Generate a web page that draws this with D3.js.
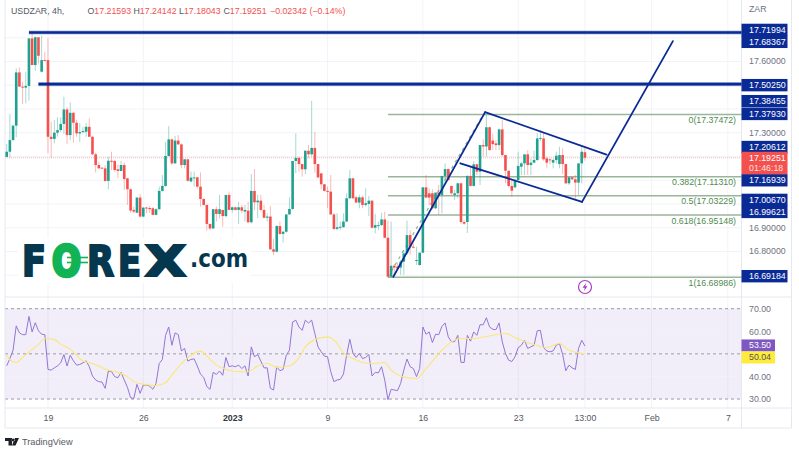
<!DOCTYPE html>
<html>
<head>
<meta charset="utf-8">
<script src="https://cdn.jsdelivr.net/npm/d3@7"></script>
<style>
body { margin: 0; background: #fff; }
text { font-family: "Liberation Sans", sans-serif; font-size: 8.8px; }
</style>
</head>
<body>
<svg width="799" height="454"></svg>
<script>
// 4h bars
var opens = [
17.196,17.218,17.267,17.328,17.552,17.492,17.488,17.495,17.695,17.583,
17.700,17.555,17.604,17.604,17.281,17.272,17.298,17.309,17.335,17.396,
17.288,17.382,17.340,17.295,17.301,17.302,17.323,17.281,17.207,17.162,
17.151,17.148,17.095,17.180,17.179,17.144,17.137,17.162,17.106,17.060,
16.973,16.961,17.025,16.945,16.983,16.981,16.980,16.952,16.976,17.053,
17.074,17.200,17.270,17.169,17.265,17.249,17.162,17.186,17.093,17.106,
17.110,17.071,17.019,16.994,16.914,16.895,16.976,16.956,16.973,16.947,
17.036,16.973,16.984,16.973,16.984,16.966,16.970,16.921,17.053,17.005,
17.012,16.973,16.940,16.945,16.807,16.797,16.905,16.872,16.881,16.954,
16.977,17.179,17.192,17.166,17.144,17.222,17.207,17.234,17.166,17.127,
17.081,17.053,17.050,16.954,16.893,16.900,16.900,16.924,17.022,17.106,
17.026,17.004,17.026,16.994,16.998,17.012,16.898,16.905,16.909,16.933,
16.856,16.692,16.738,16.734,16.730,16.755,16.790,16.867,16.818,16.758,
16.741,16.793,17.068,17.043,17.043,16.980,17.046,17.036,17.116,17.145,
17.074,17.036,17.043,17.085,16.922,16.922,17.116,17.074,17.165,17.134,
17.246,17.240,17.321,17.265,17.253,17.246,17.312,17.204,17.138,17.074,
17.068,17.099,17.155,17.169,17.207,17.162,17.172,17.183,17.274,17.274,
17.190,17.186,17.172,17.183,17.166,17.204,17.166,17.085,17.110,17.102,
17.088,17.169,17.21593];
var highs = [
17.251,17.377,17.328,17.569,17.573,17.513,17.555,17.695,17.719,17.703,
17.700,17.707,17.639,17.695,17.345,17.352,17.363,17.363,17.450,17.405,
17.426,17.387,17.352,17.338,17.323,17.338,17.359,17.284,17.214,17.176,
17.151,17.162,17.197,17.218,17.183,17.165,17.179,17.173,17.106,17.064,
16.987,17.025,17.040,16.983,16.987,16.990,16.985,16.980,17.071,17.120,
17.260,17.326,17.274,17.285,17.288,17.253,17.186,17.186,17.134,17.134,
17.113,17.131,17.022,16.994,16.914,16.976,16.987,17.036,16.973,17.036,
17.050,16.987,16.987,17.008,16.994,16.994,17.008,17.124,17.145,17.036,
17.036,16.994,16.959,16.990,16.851,16.909,16.924,16.886,16.954,17.026,
17.179,17.295,17.197,17.166,17.225,17.246,17.432,17.302,17.166,17.127,
17.082,17.071,17.120,16.959,16.959,16.924,16.959,17.043,17.141,17.106,
17.032,17.036,17.032,17.064,17.032,17.012,16.956,16.924,16.961,16.966,
16.928,16.924,16.745,16.751,16.762,16.804,16.928,16.888,16.832,16.818,
16.793,17.068,17.120,17.064,17.060,17.046,17.078,17.116,17.169,17.148,
17.074,17.057,17.088,17.088,16.930,17.120,17.155,17.179,17.169,17.246,
17.270,17.373,17.324,17.293,17.267,17.316,17.352,17.204,17.138,17.106,
17.106,17.218,17.176,17.207,17.225,17.190,17.222,17.296,17.309,17.296,
17.197,17.190,17.190,17.218,17.239,17.232,17.166,17.113,17.113,17.120,
17.169,17.246,17.24142];
var lows = [
17.196,17.194,17.265,17.279,17.492,17.419,17.422,17.433,17.583,17.559,
17.590,17.551,17.603,17.211,17.193,17.253,17.281,17.302,17.293,17.251,
17.267,17.256,17.281,17.260,17.295,17.281,17.281,17.204,17.131,17.148,
17.145,17.092,17.060,17.141,17.134,17.106,17.137,17.057,16.994,16.961,
16.959,16.959,16.942,16.942,16.959,16.960,16.950,16.950,16.973,17.050,
17.071,17.197,17.162,17.166,17.246,17.148,17.148,17.092,17.088,17.071,
17.064,16.987,16.990,16.886,16.888,16.893,16.924,16.938,16.902,16.942,
16.973,16.961,16.970,16.914,16.959,16.924,16.916,16.916,16.973,16.938,
16.966,16.938,16.924,16.804,16.783,16.794,16.867,16.835,16.877,16.952,
16.973,17.127,17.134,17.113,17.124,17.190,17.197,17.130,17.106,17.060,
17.050,16.980,16.952,16.888,16.886,16.888,16.900,16.921,17.018,17.018,
17.001,16.980,16.980,16.987,16.947,16.895,16.874,16.888,16.905,16.853,
16.689,16.689,16.692,16.720,16.699,16.699,16.783,16.783,16.811,16.741,
16.738,16.790,17.022,16.994,16.976,16.976,16.952,16.959,17.085,17.096,
17.036,17.015,17.022,16.915,16.910,16.876,17.071,17.071,17.120,17.078,
17.197,17.197,17.222,17.225,17.225,17.225,17.197,17.085,17.068,17.029,
17.064,17.092,17.120,17.120,17.120,17.120,17.169,17.180,17.262,17.180,
17.148,17.165,17.148,17.169,17.148,17.124,17.082,17.078,17.099,17.015,
17.036,17.085,17.18043];
var closes = [
17.218,17.267,17.328,17.552,17.492,17.488,17.495,17.695,17.583,17.700,
17.622,17.604,17.603,17.281,17.272,17.298,17.309,17.335,17.396,17.288,
17.382,17.340,17.295,17.301,17.305,17.323,17.281,17.207,17.162,17.148,
17.147,17.095,17.180,17.179,17.141,17.137,17.162,17.103,17.060,16.970,
16.966,17.025,16.945,16.983,16.980,16.976,16.952,16.976,17.053,17.074,
17.200,17.270,17.169,17.265,17.249,17.162,17.186,17.096,17.109,17.110,
17.071,17.019,16.994,16.914,16.895,16.976,16.956,16.976,16.947,17.036,
16.973,16.984,16.973,16.984,16.970,16.973,16.921,17.053,17.005,17.012,
16.973,16.940,16.945,16.807,16.797,16.905,16.872,16.881,16.954,16.977,
17.179,17.192,17.166,17.144,17.222,17.207,17.234,17.166,17.110,17.081,
17.053,17.050,16.954,16.893,16.900,16.902,16.924,17.022,17.106,17.022,
17.004,17.026,16.994,17.001,17.012,16.898,16.909,16.909,16.933,16.856,
16.692,16.738,16.730,16.727,16.755,16.790,16.867,16.818,16.814,16.762,
16.793,17.068,17.025,17.025,16.980,17.046,17.036,17.116,17.145,17.099,
17.043,17.043,17.085,16.922,16.915,17.116,17.074,17.165,17.134,17.246,
17.240,17.321,17.225,17.250,17.246,17.312,17.204,17.138,17.074,17.054,
17.099,17.158,17.169,17.207,17.162,17.172,17.183,17.274,17.276,17.186,
17.172,17.183,17.183,17.201,17.204,17.166,17.085,17.110,17.102,17.088,
17.169,17.218,17.19251];

var rsi = [
44.7,47.9,51.6,62.4,59.3,58.5,58.5,66.6,59.7,63.8,60.2,58.7,58.5,43.1,42.8,43.8,44.7,46.0,49.7,44.6,
49.4,46.9,45.0,45.3,46.0,46.9,44.3,40.2,38.4,37.7,37.5,34.7,42.4,42.1,39.9,39.4,41.8,38.4,35.2,30.6,
30.2,36.5,32.5,36.2,36.2,35.7,34.3,36.9,45.7,47.5,58.2,61.9,53.8,59.3,58.5,51.3,52.4,46.8,47.5,47.8,
44.6,41.0,39.6,35.5,34.3,41.8,40.9,42.4,40.5,48.4,44.3,44.7,44.3,45.0,43.5,44.7,40.2,53.1,48.7,49.7,
46.8,43.8,43.8,34.7,34.0,44.3,42.5,43.1,49.4,51.6,64.1,64.9,61.9,60.4,64.9,63.7,64.9,59.0,53.1,50.9,
49.0,48.7,42.1,37.7,38.4,38.7,41.0,49.4,56.5,50.2,48.4,50.2,47.9,48.4,49.7,40.2,41.8,41.6,44.3,38.4,
29.7,34.3,34.0,33.7,36.9,42.8,47.7,44.3,43.5,39.9,43.5,61.9,58.7,59.7,55.0,58.7,58.5,62.2,63.7,57.5,
55.4,55.4,58.2,46.2,46.2,58.2,55.6,59.7,58.2,62.9,62.9,66.0,61.9,60.9,60.7,63.7,55.3,50.2,47.2,46.6,
48.7,52.7,53.8,56.0,52.4,53.1,53.8,60.2,60.4,52.7,51.3,50.9,51.3,53.8,54.6,49.7,42.5,45.0,43.8,43.1,
52.4,56.0,53.5];

// yellow RSI average, read at these bars
var maBars = [0,1,3,5,7,10,12,15,17,20,22,24,27,29,32,35,38,40,43,47,50,52,55,58,61,63,66,69,73,76,79,82,85,89,92,
  94,97,101,104,106,109,112,115,119,121,124,129,132,137,140,143,147,151,157,160,166,170,174,177,182];
var maValues = [49.4,47.5,46.2,48.4,50.9,54.1,56.8,56.3,54.3,52.1,49.4,46.8,45.7,44.6,42.8,41.8,39.9,37.7,36.6,36.0,37.2,40.6,45.7,49.4,51.2,49.0,45.0,43.1,42.1,42.1,44.6,45.7,44.0,44.7,48.2,
  53.1,56.3,57.5,54.6,50.4,47.9,46.2,45.7,46.2,42.8,40.2,39.1,43.5,51.6,55.3,56.8,56.8,57.7,59.0,57.2,54.1,52.8,54.6,51.6,50.04];

var tickBars = [13, 43, 71, 101, 131, 161, 182, 203, 227];
var tickLabels = ["19", "26", "2023", "9", "16", "23", "13:00", "Feb", "7"];
var priceGridTicks = [16.7, 16.8, 16.9, 17.0, 17.1, 17.2, 17.3, 17.4, 17.5, 17.6, 17.7];
var priceTickValues = [17.6, 17.3, 16.9, 16.8];
var rsiGridValues = [70, 60, 50, 40, 30];
var rsiTickValues = [70, 60, 40, 30]; // 50 sits behind the value boxes
var rsiDashed = [70, 50, 30];

// horizontal levels and drawn lines: bar and price at each end
var levels = [{ bar: 7, price: 17.71994 }, { bar: 10, price: 17.5025 }];
var trendLines = [
  [121.7, 16.69184, 150.6, 17.38455],
  [150.6, 17.38455, 188.8, 17.20612],
  [142.8, 17.16939, 181.1, 17.0067],
  [181.1, 17.0067, 209.7, 17.68367]
];
var fibRatios = ["0", "0.382", "0.5", "0.618", "1"];
var fibPrices = [17.37472, 17.1131, 17.03229, 16.95148, 16.68986];
var fibStartBar = 120;

// blue labels on the price axis (value, then nudge off the scale position)
var blueLabels = [17.71994, 17.68367, 17.5025, 17.38455, 17.3793, 17.20612, 17.16939, 17.0067, 16.99621, 16.69184];
var blueNudge = [-2.6, 0.7, 1, -11, 0.5, -7.5, 17, -2, 7.5, -0.5];
var lastPrice = 17.19251;
var countdown = "01:46:18";
var rsiLast = 53.5;
var maLast = 50.04;

var plotLeft = 5, plotRight = 741.5, axisRight = 791.5;
var paneBottom = 297, rsiBottom = 408, timeBottom = 428;
var blue = "#0a2a96", up = "#1fa18f", down = "#f4504e", gridColor = "#f2f3f8", borderColor = "#e6e8ef", axisText = "#70737f";

var svg = d3.select("svg");

var x = d3.scaleLinear().domain([0, 231.3]).range([6.7, plotRight]);
var y = d3.scaleLinear().domain([16.8, 17.6]).range([251, 61]);
var yRsi = d3.scaleLinear().domain([30, 70]).range([399, 308.7]);

// grid first so everything sits on top
var yGrid = d3.axisRight(y).tickValues(priceGridTicks).tickSize(plotRight - plotLeft).tickFormat("");
svg.append("g").attr("transform", "translate(" + plotLeft + ",0)").call(yGrid)
  .call(g => g.select(".domain").remove())
  .selectAll("line").attr("stroke", gridColor);

svg.append("g").selectAll("line").data(tickBars.slice()).join("line")
  .attr("x1", d => x(d)).attr("x2", d => x(d))
  .attr("y1", 0).attr("y2", rsiBottom)
  .attr("stroke", gridColor);

// rsi band
svg.append("rect")
  .attr("x", plotLeft).attr("width", plotRight - plotLeft)
  .attr("y", yRsi(70)).attr("height", yRsi(30) - yRsi(70))
  .attr("fill", "#7e57c2").attr("opacity", 0.1);
svg.append("g").selectAll("line").data(rsiGridValues).join("line")
  .attr("x1", plotLeft).attr("x2", plotRight)
  .attr("y1", d => yRsi(d)).attr("y2", d => yRsi(d))
  .attr("stroke", gridColor).attr("opacity", 0.6);
svg.append("g").selectAll("line").data(rsiDashed).join("line")
  .attr("x1", plotLeft).attr("x2", plotRight)
  .attr("y1", d => yRsi(d)).attr("y2", d => yRsi(d))
  .attr("stroke", "#9a9ca8").attr("stroke-dasharray", "3 3");

// borders
var borders = [
  [plotLeft, 0, plotLeft, timeBottom], [plotRight, 0, plotRight, timeBottom], [axisRight, 0, axisRight, timeBottom],
  [plotLeft, paneBottom, axisRight, paneBottom], [plotLeft, rsiBottom, axisRight, rsiBottom], [plotLeft, timeBottom, axisRight, timeBottom]
];
svg.append("g").selectAll("line").data(borders).join("line")
  .attr("x1", d => d[0]).attr("y1", d => d[1]).attr("x2", d => d[2]).attr("y2", d => d[3])
  .attr("stroke", borderColor);

// forex logo sits on a white patch
var logo = svg.append("g");
logo.append("rect").attr("x", 18).attr("y", 238).attr("width", 233).attr("height", 45).attr("fill", "#fff");
var logoLetters = [
  { t: "F", x: 22, w: 24, c: "#05384f", s: 2.2 },
  { t: "O", x: 52, w: 29, c: "#12b355", s: 3.4 },
  { t: "R", x: 87, w: 27, c: "#05384f", s: 2.2 },
  { t: "E", x: 118, w: 23, c: "#05384f", s: 2.2 },
  { t: "X", x: 145, w: 41, c: "#05384f", s: 2.2 }
];
logo.selectAll("text.letter").data(logoLetters).join("text").attr("class", "letter")
  .attr("x", d => d.x).attr("y", 275.5)
  .attr("textLength", d => d.w).attr("lengthAdjust", "spacingAndGlyphs")
  .attr("fill", d => d.c).attr("stroke", d => d.c).attr("stroke-width", d => d.s)
  .style("font-family", "'DejaVu Sans'").style("font-weight", "bold").style("font-size", "42px")
  .text(d => d.t);
logo.selectAll("line.slash").data([257.5, 262.5]).join("line").attr("class", "slash")
  .attr("x1", 67).attr("x2", 88).attr("y1", d => d).attr("y2", d => d)
  .attr("stroke", "#12b355").attr("stroke-width", 1.6);
logo.append("text").attr("x", 190).attr("y", 267)
  .attr("textLength", 58).attr("lengthAdjust", "spacingAndGlyphs")
  .attr("fill", "#05384f")
  .style("font-family", "'DejaVu Sans'").style("font-weight", "bold").style("font-size", "25px")
  .text(".com");

// last price dotted line
svg.append("line")
  .attr("x1", plotLeft).attr("x2", plotRight)
  .attr("y1", y(lastPrice)).attr("y2", y(lastPrice))
  .attr("stroke", "#f6b7b5").attr("stroke-dasharray", "1 1");

// fib levels
svg.append("g").selectAll("line").data(fibPrices).join("line")
  .attr("x1", x(fibStartBar)).attr("x2", plotRight)
  .attr("y1", d => y(d)).attr("y2", d => y(d))
  .attr("stroke", "#9ab59a").attr("stroke-width", 1.5);
svg.append("line")
  .attr("x1", x(fibStartBar)).attr("y1", y(fibPrices[4]))
  .attr("x2", x(150)).attr("y2", y(fibPrices[0]))
  .attr("stroke", "#8fae8f").attr("stroke-width", 1.2).attr("stroke-dasharray", "3 4");
svg.append("g").selectAll("text").data(fibPrices).join("text")
  .attr("x", 736).attr("y", d => y(d) + 8.5)
  .attr("text-anchor", "end").attr("fill", "#4f8a52")
  .text((d, i) => fibRatios[i] + "(" + d3.format(".5f")(d) + ")");

// candles
var bars = closes.map((c, i) => ({ i: i, o: opens[i], h: highs[i], l: lows[i], c: c }));
var candle = svg.append("g").selectAll("g").data(bars).join("g");
candle.append("line")
  .attr("x1", d => x(d.i)).attr("x2", d => x(d.i))
  .attr("y1", d => y(d.h)).attr("y2", d => y(d.l))
  .attr("stroke", d => d.c >= d.o ? up : down)
  .attr("stroke-opacity", 0.4);
candle.append("rect")
  .attr("x", d => x(d.i) - 1.3).attr("width", 2.6)
  .attr("y", d => y(Math.max(d.o, d.c)))
  .attr("height", d => Math.max(1, Math.abs(y(d.o) - y(d.c))))
  .attr("fill", d => d.c >= d.o ? up : down);

// blue levels and drawn pattern, levels carry a pale halo
svg.append("g").selectAll("line").data(levels).join("line")
  .attr("x1", d => x(d.bar)).attr("x2", plotRight)
  .attr("y1", d => y(d.price)).attr("y2", d => y(d.price))
  .attr("stroke", blue).attr("stroke-width", 4.2).attr("stroke-opacity", 0.3);
svg.append("g").selectAll("line").data(levels).join("line")
  .attr("x1", d => x(d.bar)).attr("x2", plotRight)
  .attr("y1", d => y(d.price)).attr("y2", d => y(d.price))
  .attr("stroke", blue).attr("stroke-width", 2.6);
svg.append("g").selectAll("line").data(trendLines).join("line")
  .attr("x1", d => x(d[0])).attr("y1", d => y(d[1]))
  .attr("x2", d => x(d[2])).attr("y2", d => y(d[3]))
  .attr("stroke", blue).attr("stroke-width", 1.8).attr("stroke-linecap", "round");

// lightning mark
var bolt = svg.append("g").attr("transform", "translate(585,287)");
bolt.append("circle").attr("r", 6.5).attr("fill", "#fff").attr("stroke", "#a83fc4").attr("stroke-width", 1.2);
bolt.append("path").attr("d", "M1,-4 L-2.5,0.8 L-0.3,0.8 L-1,4 L2.5,-0.8 L0.3,-0.8 Z").attr("fill", "#a83fc4");

// rsi lines
var rsiLine = d3.line().x((d, i) => x(i)).y(d => yRsi(d));
svg.append("path").attr("d", rsiLine(rsi)).attr("fill", "none").attr("stroke", "#9376d4").attr("stroke-width", 1);
var maLine = d3.line().x((d, i) => x(maBars[i])).y(d => yRsi(d)).curve(d3.curveMonotoneX);
svg.append("path").attr("d", maLine(maValues)).attr("fill", "none").attr("stroke", "#fbe678").attr("stroke-width", 1.1);

// axes
var xAxis = d3.axisBottom(x).tickValues(tickBars).tickSize(0).tickFormat((d, i) => tickLabels[i]);
svg.append("g").attr("transform", "translate(0," + (rsiBottom + 4) + ")").call(xAxis)
  .call(g => g.select(".domain").remove())
  .selectAll("text")
  .attr("fill", d => d === 71 ? "#33363f" : "#555863")
  .style("font-weight", d => d === 71 ? "bold" : "normal")
  .style("font-size", "8.8px").style("font-family", "'Liberation Sans'");

var yAxis = d3.axisRight(y).tickValues(priceTickValues).tickSize(0).tickFormat(d3.format(".5f"));
svg.append("g").attr("transform", "translate(" + (plotRight + 7.5) + ",0)").call(yAxis)
  .call(g => g.select(".domain").remove())
  .selectAll("text").attr("x", 0).attr("fill", axisText)
  .style("font-size", "8.8px").style("font-family", "'Liberation Sans'");

var rsiAxis = d3.axisRight(yRsi).tickValues(rsiTickValues).tickSize(0).tickFormat(d3.format(".2f"));
svg.append("g").attr("transform", "translate(" + (plotRight + 7.5) + ",0)").call(rsiAxis)
  .call(g => g.select(".domain").remove())
  .selectAll("text").attr("x", 0).attr("fill", axisText)
  .style("font-size", "8.8px").style("font-family", "'Liberation Sans'");

// blue price labels
var blueG = svg.append("g").selectAll("g").data(blueLabels).join("g")
  .attr("transform", (d, i) => "translate(" + plotRight + "," + (y(d) + blueNudge[i]) + ")");
blueG.append("rect").attr("y", -6.2).attr("width", 46).attr("height", 12.4).attr("fill", blue);
blueG.append("text").attr("x", 7.5).attr("y", 3).attr("fill", "#fff").text(d => d3.format(".5f")(d));

// last price box with countdown
var lastG = svg.append("g").attr("transform", "translate(" + plotRight + "," + y(lastPrice) + ")");
lastG.append("rect").attr("y", -6).attr("width", 46).attr("height", 22.5).attr("fill", down);
lastG.append("text").attr("x", 7.5).attr("y", 3).attr("fill", "#fff").text(d3.format(".5f")(lastPrice));
lastG.append("text").attr("x", 7.5).attr("y", 13.5).attr("fill", "#fde0df").text(countdown);

// rsi value boxes
var rsiBoxes = [{ v: rsiLast, fill: "#7e57c2", ink: "#fff" }, { v: maLast, fill: "#ffeb3b", ink: "#555" }];
var rsiBoxTop = [yRsi(rsiLast) - 6.5, yRsi(rsiLast) + 5.5];
var rsiG = svg.append("g").selectAll("g").data(rsiBoxes).join("g")
  .attr("transform", (d, i) => "translate(" + plotRight + "," + rsiBoxTop[i] + ")");
rsiG.append("rect").attr("width", 33.5).attr("height", 12).attr("fill", d => d.fill);
rsiG.append("text").attr("x", 7.5).attr("y", 9).attr("fill", d => d.ink).text(d => d3.format(".2f")(d.v));

// header
var hdr = svg.append("g");
hdr.append("text").attr("x", 749).attr("y", 12).attr("fill", axisText).text("ZAR");
hdr.append("text").attr("x", 11).attr("y", 14).attr("fill", "#555863").text("USDZAR, 4h,");
var ohlcLabels = ["O", "H", "L", "C"];
var ohlcValues = [opens[182], highs[182], lows[182], closes[182]];
var ohlcX = [87.5, 133.5, 179, 223.5];
var ohlc = hdr.selectAll("text.ohlc").data(ohlcValues).join("text").attr("class", "ohlc")
  .attr("x", (d, i) => ohlcX[i]).attr("y", 14);
ohlc.append("tspan").attr("fill", "#555863").text((d, i) => ohlcLabels[i]);
ohlc.append("tspan").attr("fill", down).text(d => d3.format(".5f")(d));
hdr.append("text").attr("x", 270).attr("y", 14).attr("fill", down).text("\u22120.02342 (\u22120.14%)");

// tradingview footer
var tv = svg.append("g").attr("transform", "translate(5,438)");
tv.append("path").attr("d", "M0,0 H7 V7.5 H3.5 V3 H0 Z M8.2,0.5 a1.5,1.5 0 1 0 0.01,0 M10,0 H14 L10.5,7.5 H7 Z").attr("fill", "#1f2128");
svg.append("text").attr("x", 22).attr("y", 445).attr("fill", "#555863").style("font-size", "9.2px").text("TradingView");
</script>
</body>
</html>
